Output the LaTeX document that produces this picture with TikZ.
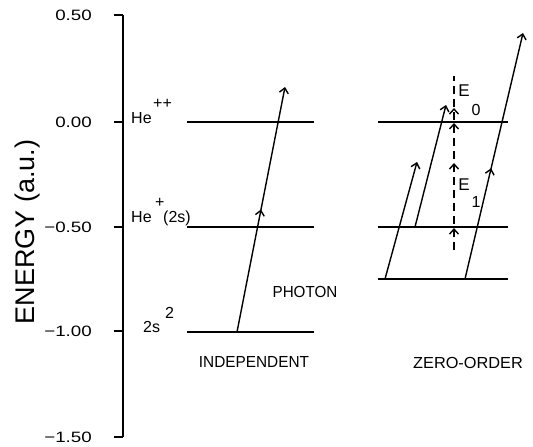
\documentclass[tikz,border=0pt]{standalone}
\usepackage{fontspec}
\setmainfont{Liberation Sans}
\usetikzlibrary{arrows.meta,decorations.markings}
\tikzset{
  barb/.tip={Straight Barb[length=5pt,width=9pt,line width=1.4pt]},
  levelline/.style={line width=1.8pt},
  axisline/.style={line width=1.1pt},
  trans/.style={line width=1.4pt,-barb},
  midhead/.style={postaction={decorate},decoration={markings,mark=at position #1 with {\arrow{barb}}}},
  txt/.style={font=\fontsize{16}{18}\selectfont,inner sep=0pt},
  num/.style={font=\fontsize{15}{18}\selectfont,inner sep=0pt,anchor=east},
  big/.style={font=\fontsize{27}{30}\selectfont,inner sep=0pt},
  dashedline/.style={line width=1.1pt,dash pattern=on 8pt off 5pt},
}
\begin{document}
\begin{tikzpicture}[x=1pt,y=-1pt]
\useasboundingbox (0,0) rectangle (533,447);
% axis
\coordinate (atop) at (123,15);
\coordinate (abot) at (123,437);
\draw[axisline] (atop) -- (abot);
\foreach \yy/\lab/\nm in {15/0.50/t1,122/0.00/t2,227/{−0.50}/t3,331/{−1.00}/t4,437/{−1.50}/t5}{
  \draw[axisline] (114,\yy) -- (123,\yy);
  \node[num] (\nm) at (92,\yy) {\scalebox{1.25}[1]{\lab}};
}
\node[big,rotate=90] (ylab) at (28,232) {ENERGY (a.u.)};
% independent levels
\coordinate (iaL) at (187,122); \coordinate (iaR) at (314,122);
\coordinate (ibL) at (187,227); \coordinate (ibR) at (314,227);
\coordinate (icL) at (187,332); \coordinate (icR) at (314,332);
\draw[levelline] (iaL) -- (iaR);
\draw[levelline] (ibL) -- (ibR);
\draw[levelline] (icL) -- (icR);
% labels
\node[txt,anchor=base west] (he2) at (131,123) {He};
\node[txt,anchor=base west] (he2s) at (153,108) {++};
\node[txt,anchor=base west] (he1) at (131,222) {He};
\node[txt,anchor=base west] (he1s) at (155,207) {+};
\node[txt,anchor=base west] (he1t) at (163,222) {(2s)};
\node[txt,anchor=base west] (gs) at (143,332) {2s};
\node[txt,anchor=base west] (gss) at (165,318) {2};
\node[txt] (photon) at (305,292) {\scalebox{0.95}[1]{PHOTON}};
\node[txt] (indep) at (254,362) {\scalebox{0.96}[1]{INDEPENDENT}};
\node[txt] (zero) at (468,363) {\scalebox{1.02}[1]{ZERO-ORDER}};
% independent transition
\coordinate (ia1) at (237,332); \coordinate (ia2) at (285,87);
\draw[trans,midhead=0.5] (ia1) -- (ia2);
% zero-order levels
\coordinate (zaL) at (378,122); \coordinate (zaR) at (508,122);
\coordinate (zbL) at (378,227); \coordinate (zbR) at (508,227);
\coordinate (zcL) at (378,279); \coordinate (zcR) at (508,279);
\draw[levelline] (zaL) -- (zaR);
\draw[levelline] (zbL) -- (zbR);
\draw[levelline] (zcL) -- (zcR);
% zero-order transitions
\coordinate (z1a) at (385,279); \coordinate (z1b) at (417,162);
\coordinate (z2a) at (415,227); \coordinate (z2b) at (446,105);
\coordinate (z3a) at (465,279); \coordinate (z3b) at (523,33);
\draw[trans] (z1a) -- (z1b);
\draw[trans] (z2a) -- (z2b);
\draw[trans,midhead=0.45] (z3a) -- (z3b);
% dashed energy line
\coordinate (da) at (454,250); \coordinate (db) at (454,76);
\draw[dashedline,postaction={decorate},decoration={markings,
  mark=at position 0.126 with {\arrow{barb}},
  mark=at position 0.5 with {\arrow{barb}},
  mark=at position 0.730 with {\arrow{barb}},
  mark=at position 0.816 with {\arrow{barb}}}] (da) -- (db);
\node[txt,anchor=center] (e0) at (464,91) {\fontsize{17}{18}\selectfont E};
\node[txt,anchor=center] (e0s) at (476,110) {0};
\node[txt,anchor=center] (e1) at (464,185) {\fontsize{17}{18}\selectfont E};
\node[txt,anchor=center] (e1s) at (476,202) {1};
\end{tikzpicture}
\end{document}
